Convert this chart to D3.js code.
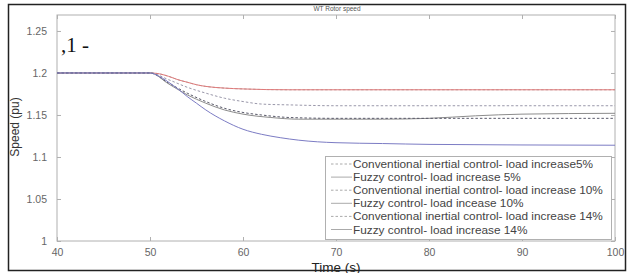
<!DOCTYPE html>
<html>
<head>
<meta charset="utf-8">
<script src="https://cdn.jsdelivr.net/npm/d3@7"></script>
<style>
  body { margin: 0; background: #fff; }
  svg { display: block; }
</style>
</head>
<body>
<svg id="chart" width="634" height="273"></svg>
<script>
// time (s) and rotor speed (pu)
var tConv5 = [40, 50, 51, 52, 53, 54, 55, 56, 58, 60, 65, 100];
var vConv5 = [1.2, 1.2, 1.199, 1.196, 1.192, 1.189, 1.186, 1.184, 1.182, 1.181, 1.180, 1.180];

var tFuzzy5 = [40, 50, 51, 52, 53, 54, 55, 56, 58, 60, 65, 100];
var vFuzzy5 = [1.2, 1.2, 1.199, 1.196, 1.192, 1.189, 1.186, 1.184, 1.182, 1.181, 1.180, 1.180];

var tConv10 = [40, 50, 52, 54, 56, 58, 60, 62, 65, 70, 100];
var vConv10 = [1.2, 1.2, 1.192, 1.183, 1.176, 1.170, 1.166, 1.163, 1.162, 1.161, 1.161];

var tFuzzy10 = [40, 50, 52, 54, 56, 58, 60, 63, 66, 70, 75, 80, 85, 90, 100];
var vFuzzy10 = [1.2, 1.2, 1.187, 1.174, 1.164, 1.156, 1.151, 1.147, 1.145, 1.145, 1.145, 1.146, 1.149, 1.151, 1.152];

var tConv14 = [40, 50, 52, 54, 56, 58, 60, 62, 65, 70, 100];
var vConv14 = [1.2, 1.2, 1.188, 1.176, 1.166, 1.158, 1.153, 1.150, 1.147, 1.146, 1.146];

var tFuzzy14 = [40, 50, 51, 52, 53, 54, 55, 56, 58, 60, 62, 64, 66, 70, 75, 80, 100];
var vFuzzy14 = [1.2, 1.2, 1.196, 1.189, 1.181, 1.172, 1.164, 1.156, 1.143, 1.133, 1.127, 1.123, 1.120, 1.117, 1.116, 1.115, 1.114];

var legendLabels = [
  "Conventional inertial control- load increase5%",
  "Fuzzy control- load increase 5%",
  "Conventional inertial control- load increase 10%",
  "Fuzzy control- load incease 10%",
  "Conventional inertial control- load increase 14%",
  "Fuzzy control- load increase 14%"
];

var xTicks = [40, 50, 60, 70, 80, 90, 100];
var yTicks = [1, 1.05, 1.1, 1.15, 1.2, 1.25];
var yTickLabels = ["1", "1.05", "1.1", "1.15", "1.2", "1.25"];

var series = [
  { t: tConv5, v: vConv5, color: "#a8a8a8", dash: "2.5,2" },
  { t: tFuzzy5, v: vFuzzy5, color: "#e07a7a", dash: null },
  { t: tConv10, v: vConv10, color: "#9a98aa", dash: "2.5,2" },
  { t: tFuzzy10, v: vFuzzy10, color: "#8c8c8c", dash: null },
  { t: tConv14, v: vConv14, color: "#5a5a6a", dash: "2.5,2" },
  { t: tFuzzy14, v: vFuzzy14, color: "#7c7cc4", dash: null }
];

var svg = d3.select("#chart");
var plotL = 57, plotR = 615, plotT = 15, plotB = 241;

var x = d3.scaleLinear().domain([40, 100]).range([plotL, plotR]);
var y = d3.scaleLinear().domain([1, 1.269]).range([plotB, plotT]);

// outer frame
svg.append("rect").attr("x", 8.5).attr("y", 4.5).attr("width", 617).attr("height", 266)
  .attr("fill", "none").attr("stroke", "#222").attr("stroke-width", 1.5);

// plot box
svg.append("rect").attr("x", plotL).attr("y", plotT).attr("width", plotR - plotL).attr("height", plotB - plotT)
  .attr("fill", "none").attr("stroke", "#b0b0b0").attr("stroke-width", 1);

var tickFont = "Liberation Sans, Arial, sans-serif";

var xAxis = d3.axisBottom(x).tickValues(xTicks).tickSize(-4).tickPadding(8);
var gx = svg.append("g").attr("transform", "translate(0," + plotB + ")").call(xAxis);
var xTop = d3.axisTop(x).tickValues(xTicks).tickSize(-4).tickFormat("");
var gxt = svg.append("g").attr("transform", "translate(0," + plotT + ")").call(xTop);

var yAxis = d3.axisLeft(y).tickValues(yTicks).tickSize(-4).tickPadding(10)
  .tickFormat(function(d, i) { return yTickLabels[i]; });
var gy = svg.append("g").attr("transform", "translate(" + plotL + ",0)").call(yAxis);
var yRight = d3.axisRight(y).tickValues(yTicks).tickSize(-4).tickFormat("");
var gyr = svg.append("g").attr("transform", "translate(" + plotR + ",0)").call(yRight);

[gx, gxt, gy, gyr].forEach(function(g) {
  g.select(".domain").remove();
  g.selectAll("line").attr("stroke", "#b0b0b0");
  g.selectAll("text").attr("fill", "#666").style("font-family", tickFont).style("font-size", "10.5px");
});

// lines
var line = d3.line().x(function(d) { return x(d[0]); }).y(function(d) { return y(d[1]); })
  .curve(d3.curveMonotoneX);

series.forEach(function(s) {
  var pts = s.t.map(function(t, i) { return [t, s.v[i]]; });
  svg.append("path").datum(pts).attr("d", line)
    .attr("fill", "none").attr("stroke", s.color).attr("stroke-width", 1)
    .attr("stroke-dasharray", s.dash);
});

// title
svg.append("text").attr("x", 337).attr("y", 11).attr("text-anchor", "middle")
  .style("font-family", tickFont).style("font-size", "6.5px").attr("fill", "#555")
  .text("WT Rotor speed");

// axis labels
svg.append("text").attr("transform", "translate(19,127) rotate(-90)").attr("text-anchor", "middle")
  .style("font-family", tickFont).style("font-size", "12px").attr("fill", "#333")
  .text("Speed (pu)");
svg.append("text").attr("x", 336).attr("y", 271.5).attr("text-anchor", "middle")
  .style("font-family", tickFont).style("font-size", "13.5px").attr("fill", "#222")
  .text("Time (s)");

// stray mark in the figure
svg.append("text").attr("x", 61).attr("y", 52)
  .style("font-family", "Liberation Serif, Times New Roman, serif").style("font-size", "21px").attr("fill", "#111")
  .text(",1 -");

// legend
var lg = svg.append("g");
lg.append("rect").attr("x", 325.5).attr("y", 156.5).attr("width", 286).attr("height", 83)
  .attr("fill", "#fff").attr("stroke", "#b0b0b0").attr("stroke-width", 1);
legendLabels.forEach(function(lbl, i) {
  var yy = 164 + i * 13.1;
  lg.append("line").attr("x1", 331).attr("x2", 352).attr("y1", yy).attr("y2", yy)
    .attr("stroke", "#aaa").attr("stroke-width", 1).attr("stroke-dasharray", series[i].dash);
  lg.append("text").attr("x", 353).attr("y", yy + 4)
    .style("font-family", tickFont).style("font-size", "11.8px").attr("fill", "#444")
    .text(lbl);
});
</script>
</body>
</html>
